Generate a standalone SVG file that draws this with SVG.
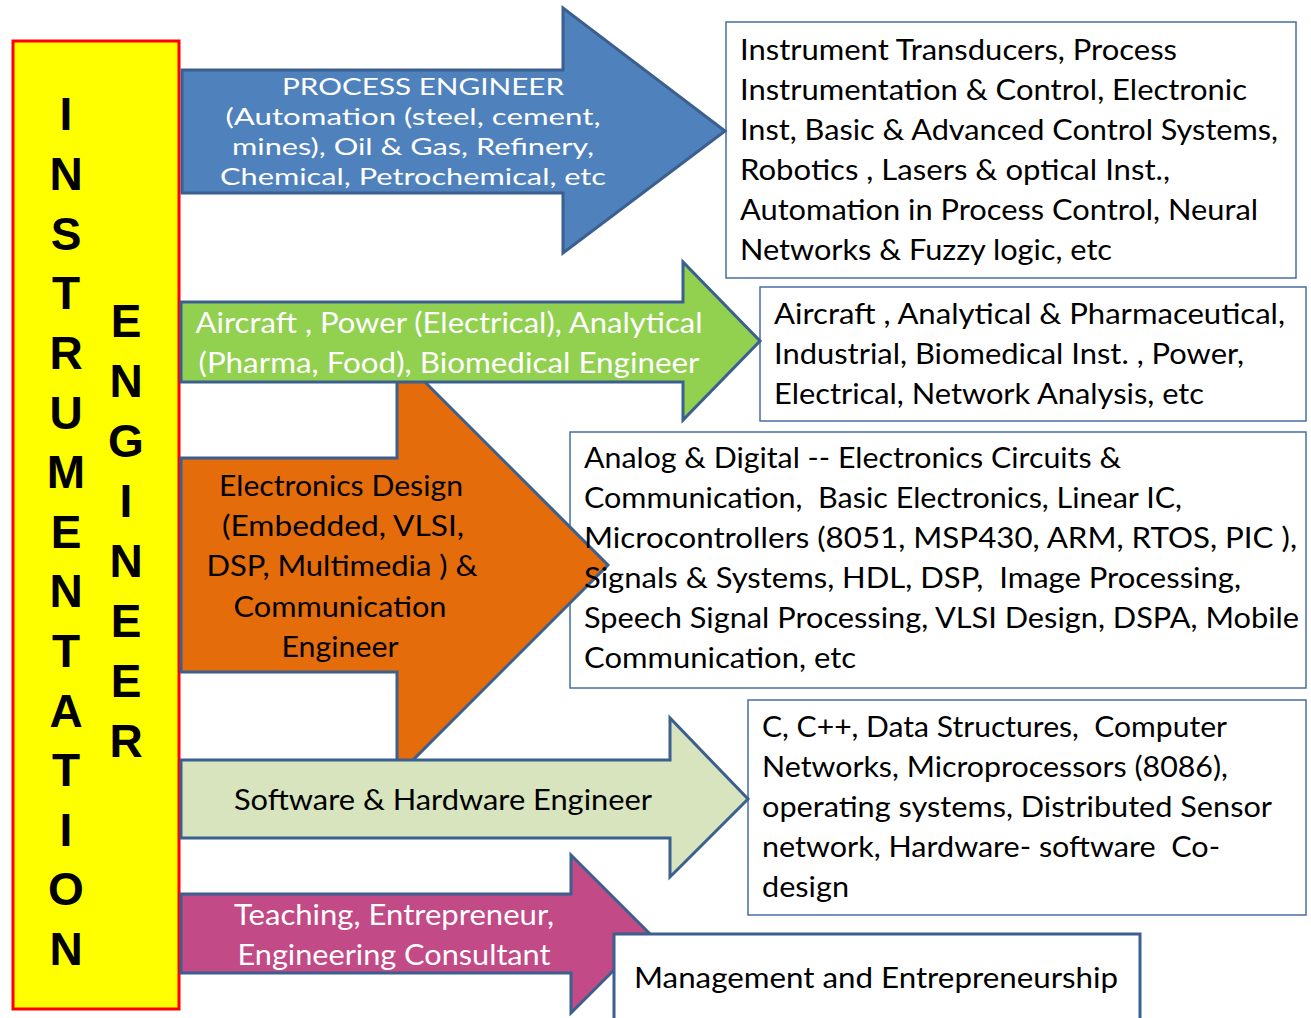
<svg xmlns="http://www.w3.org/2000/svg" width="1311" height="1018" viewBox="0 0 1311 1018">
<style>
.arr{stroke:#3B5F8E;stroke-width:3;stroke-linejoin:miter}
.box{fill:#fff;stroke:#4A6EA3;stroke-width:1.5}
.t{font-family:Lato,"Open Sans","Liberation Sans",sans-serif;font-size:29px;fill:#000;white-space:pre}
.w{fill:#fff}
.mid{text-anchor:middle}
.big{font-family:"Liberation Sans",Arial,sans-serif;font-weight:bold;font-size:46px;fill:#000;text-anchor:middle}
.bt{font-family:Lato,"Open Sans","Liberation Sans",sans-serif;font-size:24px;fill:#fff;text-anchor:middle}
</style>
<rect width="1311" height="1018" fill="#fff"/>

<g id="instrumentation-engineer">
<rect x="13" y="41" width="166" height="968" fill="#FFFF00" stroke="#FF0000" stroke-width="3"/>
<text class="big" x="66" y="130">I</text>
<text class="big" x="66" y="190">N</text>
<text class="big" x="66" y="250">S</text>
<text class="big" x="66" y="309">T</text>
<text class="big" x="66" y="369">R</text>
<text class="big" x="66" y="429">U</text>
<text class="big" x="66" y="488">M</text>
<text class="big" x="66" y="548">E</text>
<text class="big" x="66" y="607">N</text>
<text class="big" x="66" y="667">T</text>
<text class="big" x="66" y="727">A</text>
<text class="big" x="66" y="786">T</text>
<text class="big" x="66" y="846">I</text>
<text class="big" x="66" y="905">O</text>
<text class="big" x="66" y="965">N</text>
<text class="big" x="126" y="337">E</text>
<text class="big" x="126" y="397">N</text>
<text class="big" x="126" y="457">G</text>
<text class="big" x="126" y="517">I</text>
<text class="big" x="126" y="577">N</text>
<text class="big" x="126" y="637">E</text>
<text class="big" x="126" y="697">E</text>
<text class="big" x="126" y="757">R</text>
</g>

<g id="box-process">
<rect class="box" x="726" y="22" width="570" height="256"/>
<text class="t" x="740" y="60" textLength="437" lengthAdjust="spacingAndGlyphs">Instrument Transducers, Process</text>
<text class="t" x="740" y="100" textLength="507" lengthAdjust="spacingAndGlyphs">Instrumentation &amp; Control, Electronic</text>
<text class="t" x="740" y="140" textLength="538" lengthAdjust="spacingAndGlyphs">Inst, Basic &amp; Advanced Control Systems,</text>
<text class="t" x="740" y="180" textLength="430" lengthAdjust="spacingAndGlyphs">Robotics , Lasers &amp; optical Inst.,</text>
<text class="t" x="740" y="220" textLength="518" lengthAdjust="spacingAndGlyphs">Automation in Process Control, Neural</text>
<text class="t" x="740" y="260" textLength="372" lengthAdjust="spacingAndGlyphs">Networks &amp; Fuzzy logic, etc</text>
</g>

<g id="box-aircraft">
<rect class="box" x="760" y="287" width="546" height="134"/>
<text class="t" x="774" y="324" textLength="511" lengthAdjust="spacingAndGlyphs">Aircraft , Analytical &amp; Pharmaceutical,</text>
<text class="t" x="774" y="364" textLength="470" lengthAdjust="spacingAndGlyphs">Industrial, Biomedical Inst. , Power,</text>
<text class="t" x="774" y="404" textLength="430" lengthAdjust="spacingAndGlyphs">Electrical, Network Analysis, etc</text>
</g>

<g id="box-electronics">
<rect class="box" x="570" y="432" width="736" height="256"/>
</g>

<g id="box-software">
<rect class="box" x="748" y="700" width="558" height="215"/>
<text class="t" x="762" y="737" textLength="465" lengthAdjust="spacingAndGlyphs">C, C++, Data Structures,  Computer</text>
<text class="t" x="762" y="777" textLength="466" lengthAdjust="spacingAndGlyphs">Networks, Microprocessors (8086),</text>
<text class="t" x="762" y="817" textLength="510" lengthAdjust="spacingAndGlyphs">operating systems, Distributed Sensor</text>
<text class="t" x="762" y="857" textLength="458" lengthAdjust="spacingAndGlyphs">network, Hardware- software  Co-</text>
<text class="t" x="762" y="897" textLength="87" lengthAdjust="spacingAndGlyphs">design</text>
</g>

<g id="connectors">
<g id="arrow-process">
<path class="arr" fill="#4F81BD" d="M182,70 H563 V8 L725,131 L563,253 V193 H182 Z"/>
<text class="bt" x="423" y="95" textLength="282" lengthAdjust="spacingAndGlyphs">PROCESS ENGINEER</text>
<text class="bt" x="413" y="125" textLength="375" lengthAdjust="spacingAndGlyphs">(Automation (steel, cement,</text>
<text class="bt" x="413" y="155" textLength="362" lengthAdjust="spacingAndGlyphs">mines), Oil &amp; Gas, Refinery,</text>
<text class="bt" x="413" y="185" textLength="386" lengthAdjust="spacingAndGlyphs">Chemical, Petrochemical, etc</text>
</g>
<g id="arrow-electronics">
<path class="arr" fill="#E46C0A" d="M181,458 H397 V354 L608,565 L397,776 V672 H181 Z"/>
<text class="t mid" x="341" y="496" textLength="244" lengthAdjust="spacingAndGlyphs">Electronics Design</text>
<text class="t mid" x="343" y="536" textLength="242" lengthAdjust="spacingAndGlyphs">(Embedded, VLSI,</text>
<text class="t mid" x="342" y="576" textLength="271" lengthAdjust="spacingAndGlyphs">DSP, Multimedia ) &amp;</text>
<text class="t mid" x="340" y="617" textLength="213" lengthAdjust="spacingAndGlyphs">Communication</text>
<text class="t mid" x="340" y="657" textLength="117" lengthAdjust="spacingAndGlyphs">Engineer</text>
</g>
<g id="arrow-aircraft">
<path class="arr" fill="#92D050" d="M181,302 H683 V262 L760,341 L683,420 V382 H181 Z"/>
<text class="t mid w" x="449" y="333" textLength="507" lengthAdjust="spacingAndGlyphs">Aircraft , Power (Electrical), Analytical</text>
<text class="t mid w" x="449" y="373" textLength="501" lengthAdjust="spacingAndGlyphs">(Pharma, Food), Biomedical Engineer</text>
</g>
<g id="arrow-software">
<path class="arr" fill="#D7E4BD" d="M181,760 H670 V718 L748,799 L670,877 V838 H181 Z"/>
<text class="t mid" x="443" y="810" textLength="418" lengthAdjust="spacingAndGlyphs">Software &amp; Hardware Engineer</text>
</g>
<g id="arrow-teaching">
<path class="arr" fill="#C24A86" d="M181,894 H571 V855 L650,934 L571,1013 V973 H181 Z"/>
<text class="t mid w" x="394" y="925" textLength="320" lengthAdjust="spacingAndGlyphs">Teaching, Entrepreneur,</text>
<text class="t mid w" x="394" y="965" textLength="313" lengthAdjust="spacingAndGlyphs">Engineering Consultant</text>
</g>
</g>

<g id="box-electronics-text">
<text class="t" x="584" y="468" textLength="537" lengthAdjust="spacingAndGlyphs">Analog &amp; Digital -- Electronics Circuits &amp;</text>
<text class="t" x="584" y="508" textLength="598" lengthAdjust="spacingAndGlyphs">Communication,  Basic Electronics, Linear IC,</text>
<text class="t" x="584" y="548" textLength="713" lengthAdjust="spacingAndGlyphs">Microcontrollers (8051, MSP430, ARM, RTOS, PIC ),</text>
<text class="t" x="584" y="588" textLength="657" lengthAdjust="spacingAndGlyphs">Signals &amp; Systems, HDL, DSP,  Image Processing,</text>
<text class="t" x="584" y="628" textLength="715" lengthAdjust="spacingAndGlyphs">Speech Signal Processing, VLSI Design, DSPA, Mobile</text>
<text class="t" x="584" y="668" textLength="272" lengthAdjust="spacingAndGlyphs">Communication, etc</text>
</g>

<g id="box-management">
<rect x="614" y="934" width="526" height="100" fill="#fff" stroke="#3B5F8E" stroke-width="3"/>
<text class="t" x="634" y="988" textLength="484" lengthAdjust="spacingAndGlyphs">Management and Entrepreneurship</text>
</g>
</svg>
